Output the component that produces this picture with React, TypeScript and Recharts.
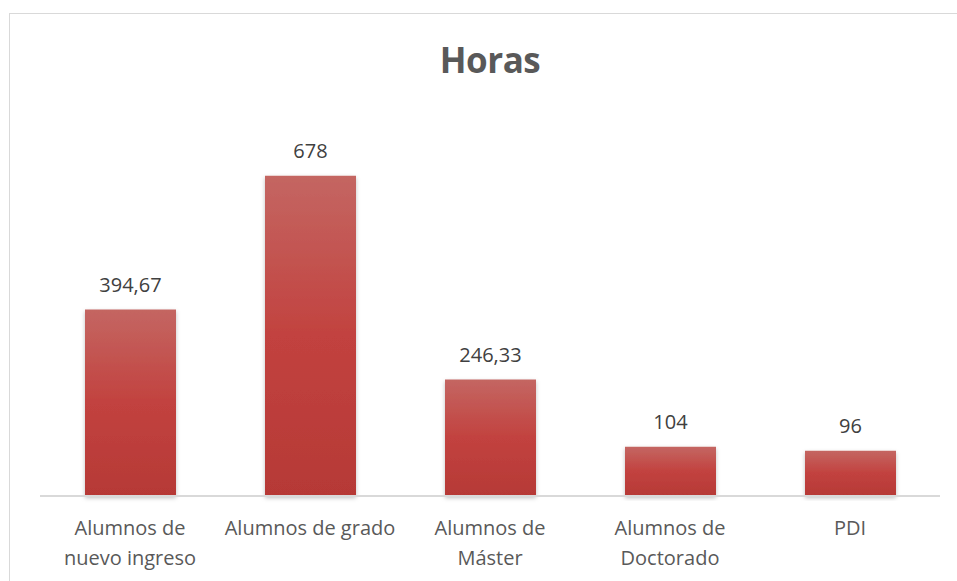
import { BarChart, Bar, XAxis, YAxis, LabelList } from 'recharts'

const categories = [
  'Alumnos de\nnuevo ingreso',
  'Alumnos de grado',
  'Alumnos de\nMáster',
  'Alumnos de\nDoctorado',
  'PDI',
]
const horas = [394.67, 678, 246.33, 104, 96]

const data = categories.map((name, i) => ({ name, horas: horas[i] }))

const font = '"Open Sans", "Liberation Sans", sans-serif'

const fmt = (v: any) => String(v).replace('.', ',')

function CategoryTick(props: any) {
  const { x, y, payload } = props
  const lines = String(payload.value).split('\n')
  return (
    <text x={x} y={y + 31} textAnchor="middle" fill="#595959" fontSize={20} fontFamily={font}>
      {lines.map((l, i) => (
        <tspan key={i} x={x} dy={i === 0 ? 0 : 30}>{l}</tspan>
      ))}
    </text>
  )
}

export default function App() {
  return (
    <div style={{ position: 'absolute', left: 0, top: 0, width: 957, height: 581, background: '#fff', overflow: 'hidden' }}>
      <div style={{ position: 'absolute', left: 9, top: 13, width: 960, height: 580, border: '1px solid #D9D9D9' }} />
      <svg width={957} height={100} style={{ position: 'absolute', left: 0, top: 0 }}>
        <text
          x={490}
          y={73}
          textAnchor="middle"
          fontFamily={font}
          fontWeight={700}
          fontSize={35}
          letterSpacing={-0.5}
          fill="#595959"
        >
          Horas
        </text>
      </svg>
      <div style={{ position: 'absolute', left: 0, top: 0 }}>
        <BarChart width={957} height={581} data={data} margin={{ top: 118, right: 17, left: 40, bottom: 25 }}>
          <defs>
            <linearGradient id="barFill" x1="0" y1="0" x2="0" y2="1">
              <stop offset="0%" stopColor="#C46662" />
              <stop offset="50%" stopColor="#C2423F" />
              <stop offset="100%" stopColor="#B63936" />
            </linearGradient>
            <filter id="shadow" x="-10%" y="-10%" width="120%" height="120%">
              <feDropShadow dx="0" dy="2" stdDeviation="2" floodColor="#000" floodOpacity="0.25" />
            </filter>
          </defs>
          <XAxis
            dataKey="name"
            height={60}
            interval={0}
            axisLine={{ stroke: '#D9D9D9', strokeWidth: 2 }}
            tickLine={false}
            tick={<CategoryTick />}
          />
          <YAxis hide domain={[0, 800]} />
          <Bar dataKey="horas" fill="url(#barFill)" barSize={91} isAnimationActive={false} style={{ filter: 'url(#shadow)' }}>
            <LabelList
              dataKey="horas"
              position="top"
              offset={18}
              formatter={fmt}
              fill="#404040"
              fontSize={20}
              fontFamily={font}
            />
          </Bar>
        </BarChart>
      </div>
    </div>
  )
}
